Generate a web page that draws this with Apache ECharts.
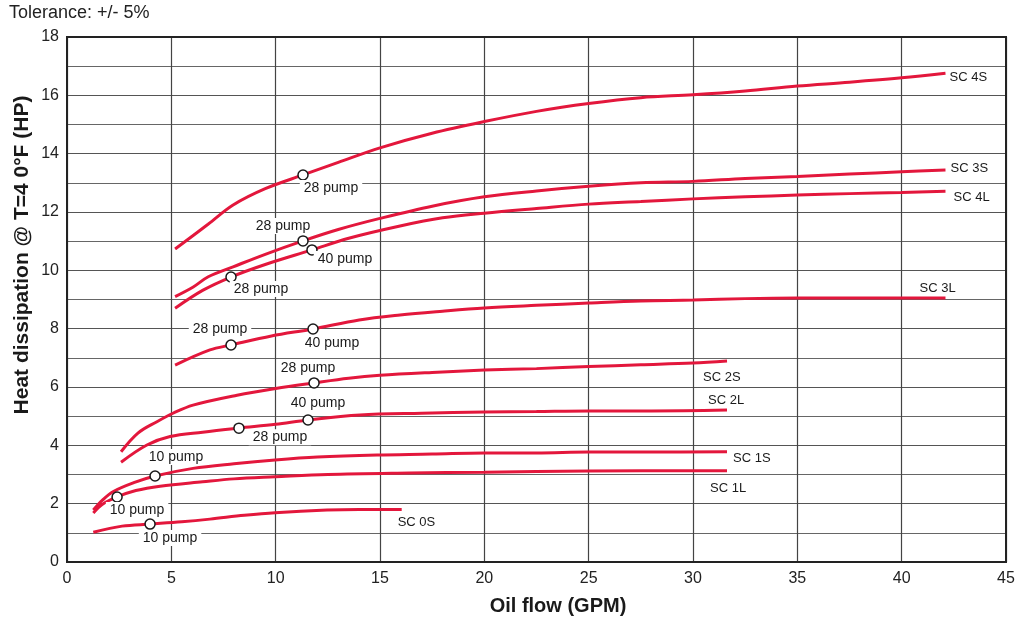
<!DOCTYPE html>
<html>
<head>
<meta charset="utf-8">
<script src="https://cdn.jsdelivr.net/npm/echarts@6/dist/echarts.min.js"></script>
<style>
  html, body { margin: 0; padding: 0; background: #fff; }
  #chart { width: 1019px; height: 624px; }
</style>
</head>
<body>
<div id="chart"></div>
<script>
// curves, [oil flow GPM, heat dissipation HP]
var sc4s = [[5.18,10.73],[6.76,11.58],[7.96,12.24],[9.5,12.8],[11.31,13.27],[13,13.7],[15,14.2],[17.5,14.7],[20,15.1],[22.5,15.45],[25,15.72],[27.5,15.92],[30,16.02],[32.5,16.15],[35,16.32],[37.5,16.45],[40,16.6],[42.1,16.76]];
var sc3s = [[5.18,9.1],[6.05,9.43],[6.77,9.78],[7.96,10.12],[9.5,10.55],[11.31,11.01],[13,11.4],[15,11.78],[17.5,12.2],[20,12.52],[22.5,12.72],[25,12.88],[27.5,13.0],[30,13.05],[32.5,13.15],[35,13.22],[37.5,13.3],[40,13.38],[42.1,13.44]];
var sc4l = [[5.18,8.7],[6.52,9.32],[7.86,9.77],[9.5,10.2],[11.74,10.7],[13.5,11.1],[15.96,11.52],[18,11.8],[20,11.96],[22.5,12.12],[25,12.27],[27.5,12.36],[30,12.45],[32.5,12.52],[35,12.58],[37.5,12.63],[40,12.67],[42.1,12.71]];
var sc3l = [[5.18,6.75],[6.85,7.27],[7.86,7.44],[9.8,7.75],[11.79,7.99],[14,8.3],[15.96,8.47],[18,8.6],[20,8.71],[22.5,8.8],[25,8.88],[27.5,8.95],[30,8.98],[32.5,9.03],[35,9.05],[38,9.05],[42.1,9.05]];
var sc2s = [[2.59,3.78],[3.4,4.42],[4.31,4.81],[5.08,5.1],[6.04,5.38],[8.15,5.72],[10,5.95],[11.84,6.14],[13.5,6.3],[15,6.4],[17.5,6.5],[20,6.58],[22.5,6.63],[25,6.7],[27.5,6.76],[30,6.82],[31.63,6.89]];
var sc2l = [[2.59,3.42],[3.83,4.01],[4.94,4.3],[6.5,4.45],[8.24,4.59],[10,4.72],[11.55,4.87],[14.04,5.04],[17,5.1],[20,5.14],[22.5,5.16],[25,5.18],[28,5.18],[31.63,5.21]];
var sc1s = [[1.26,1.78],[1.7,2.12],[2.2,2.41],[3.2,2.72],[4.22,2.95],[6.04,3.21],[8,3.37],[9.97,3.5],[12,3.6],[14.86,3.67],[17.5,3.7],[20,3.74],[22.5,3.74],[25,3.77],[28,3.77],[31.63,3.78]];
var sc1l = [[1.26,1.68],[1.7,1.98],[2.4,2.23],[3.3,2.45],[4.46,2.6],[6.5,2.75],[8,2.85],[9.97,2.92],[12.5,3.0],[16.4,3.05],[20,3.08],[25,3.12],[31.63,3.13]];
var sc0s = [[1.26,1.02],[2.64,1.23],[3.98,1.3],[5.5,1.38],[6.85,1.47],[8.5,1.6],[9.97,1.69],[12.46,1.78],[14,1.8],[16.04,1.8]];

var curveNames = ['SC 4S','SC 3S','SC 4L','SC 3L','SC 2S','SC 2L','SC 1S','SC 1L','SC 0S'];
var curveData = [sc4s, sc3s, sc4l, sc3l, sc2s, sc2l, sc1s, sc1l, sc0s];

// pump operating points
var pumpX = [11.31, 11.31, 11.74, 7.86, 7.86, 11.79, 11.84, 11.55, 8.24, 4.22, 2.40, 3.98];
var pumpY = [13.27, 11.01, 10.70, 9.77, 7.44, 7.99, 6.14, 4.87, 4.59, 2.95, 2.23, 1.30];
var pumpText = ['28 pump','28 pump','40 pump','28 pump','28 pump','40 pump','28 pump','40 pump','28 pump','10 pump','10 pump','10 pump'];

// label placement (pixels)
var endLabelOffset = [[4,4],[5,-2],[8,6],[-26,-10],[-24,16],[-19,-10],[6,7],[-17,18],[-4,13]];
var pumpLabelOffset = [[28,13],[-20,-15],[33,9],[30,12],[-11,-16],[19,14],[-6,-15],[10,-17],[41,9],[21,-19],[20,13],[20,14]];

var RED = '#e3173c';
var FONT = '"Liberation Sans", Arial, sans-serif';

var chart = echarts.init(document.getElementById('chart'), null, {renderer: 'canvas'});

var series = curveNames.map(function (name, i) {
    return {
        name: name,
        type: 'line',
        data: curveData[i],
        smooth: 0.35,
        showSymbol: false,
        silent: true,
        z: 3,
        lineStyle: {color: RED, width: 3},
        endLabel: {
            show: true,
            formatter: name,
            fontFamily: FONT,
            fontSize: 13,
            color: '#1a1a1a',
            distance: 0,
            align: 'left',
            verticalAlign: 'middle',
            offset: endLabelOffset[i]
        }
    };
});

series.push({
    name: 'pumps',
    type: 'scatter',
    z: 5,
    silent: true,
    symbol: 'circle',
    symbolSize: 10,
    itemStyle: {color: '#fff', borderColor: '#1a1a1a', borderWidth: 1.5, opacity: 1},
    data: pumpX.map(function (x, i) {
        return {
            value: [x, pumpY[i]],
            label: {
                show: true,
                formatter: pumpText[i],
                position: 'inside',
                offset: pumpLabelOffset[i],
                fontFamily: FONT,
                fontSize: 14,
                color: '#1a1a1a',
                opacity: 1,
                backgroundColor: '#fff',
                padding: [1, 4]
            }
        };
    })
});

chart.setOption({
    animation: false,
    backgroundColor: '#fff',
    grid: {left: 67, right: 13, top: 37, bottom: 62, show: true, borderColor: '#222', borderWidth: 2, backgroundColor: 'transparent', z: 4},
    graphic: [
        {type: 'text', left: 9, top: 4, style: {text: 'Tolerance: +/- 5%', font: '18px ' + FONT, fill: '#222'}},
        {type: 'text', x: 558, y: 606, style: {text: 'Oil flow (GPM)', font: 'bold 20px ' + FONT, fill: '#1a1a1a', align: 'center', verticalAlign: 'middle'}},
        {type: 'text', x: 22, y: 255, rotation: Math.PI / 2, style: {text: 'Heat dissipation @ T=4 0°F (HP)', font: 'bold 21px ' + FONT, fill: '#1a1a1a', align: 'center', verticalAlign: 'middle'}}
    ],
    xAxis: {
        type: 'value',
        min: 0, max: 45, interval: 5,
        axisLine: {show: true, lineStyle: {color: '#222', width: 2}},
        axisTick: {show: false},
        axisLabel: {fontFamily: FONT, fontSize: 16, color: '#222', margin: 9},
        splitLine: {show: true, lineStyle: {color: '#444', width: 1.2}}
    },
    yAxis: {
        type: 'value',
        min: 0, max: 18, interval: 2,
        axisLine: {show: true, lineStyle: {color: '#222', width: 2}},
        axisTick: {show: false},
        axisLabel: {fontFamily: FONT, fontSize: 16, color: '#222', margin: 8},
        splitLine: {show: true, lineStyle: {color: '#555', width: 1.2}},
        minorTick: {show: false, splitNumber: 2},
        minorSplitLine: {show: true, lineStyle: {color: '#666', width: 1.2}}
    },
    series: series
});
</script>
</body>
</html>
